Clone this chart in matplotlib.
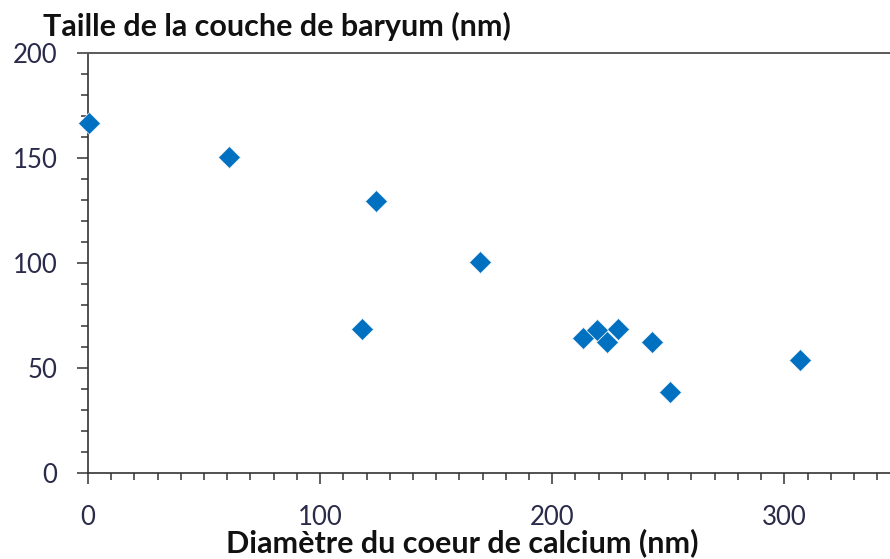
import matplotlib
matplotlib.use("Agg")
import matplotlib.pyplot as plt
from matplotlib.ticker import MultipleLocator

# Calcium core diameter (nm) vs barium shell thickness (nm)
core_diameter = [0.6, 60.9, 123.9, 168.9, 117.9, 213.4, 219.2, 223.8, 228.5, 242.9, 250.8, 306.7]
shell_size = [166.5, 150.3, 129.7, 100.3, 68.4, 64.5, 68.1, 62.2, 68.7, 62.5, 38.7, 53.8]

x_ticks = [0, 100, 200, 300]
y_ticks = [0, 50, 100, 150, 200]

title_text = "Taille de la couche de baryum (nm)"
xlabel_text = "Diamètre du coeur de calcium (nm)"

plt.rcParams['font.family'] = ['Lato', 'DejaVu Sans']

W, H = 890, 559
fig = plt.figure(figsize=(W / 100, H / 100), dpi=100)

left_px, right_px, bottom_px, top_px = 88, 88 + 350 * 2.321, 473, 53
ax = fig.add_axes([left_px / W, 1 - bottom_px / H,
                   (right_px - left_px) / W, (bottom_px - top_px) / H])

ax.plot(core_diameter, shell_size, linestyle='none', marker='D',
        markersize=11.7, color='#0070C0', markeredgecolor='#e8f1fa',
        markeredgewidth=0.5, clip_on=False, zorder=3)

ax.set_xlim(0, 350)
ax.set_ylim(0, 200)
ax.set_xticks(x_ticks)
ax.set_yticks(y_ticks)
ax.xaxis.set_minor_locator(MultipleLocator(10))
ax.yaxis.set_minor_locator(MultipleLocator(10))

axis_color = '#333333'
for side in ('left', 'bottom'):
    ax.spines[side].set_color(axis_color)
    ax.spines[side].set_linewidth(1.2)
ax.spines['top'].set_color('#5a5a5a')
ax.spines['top'].set_linewidth(1.4)
ax.spines['right'].set_visible(False)

label_color = '#2a2a4a'
ax.tick_params(axis='both', which='major', direction='out', length=8,
               width=1.1, color=axis_color, labelsize=18.5, labelcolor=label_color)
ax.tick_params(axis='both', which='minor', direction='out', length=4.8,
               width=1.1, color=axis_color)
ax.tick_params(axis='x', which='major', pad=15)
ax.tick_params(axis='y', which='major', pad=14)

fig.text(43 / W, 1 - 36 / H, title_text, fontsize=22, fontweight='bold',
         color='#111111', ha='left', va='baseline')
fig.text(462 / W, 1 - 552 / H, xlabel_text, fontsize=22, fontweight='bold',
         color='#111111', ha='center', va='baseline')

fig.savefig('out.png', dpi=100)
